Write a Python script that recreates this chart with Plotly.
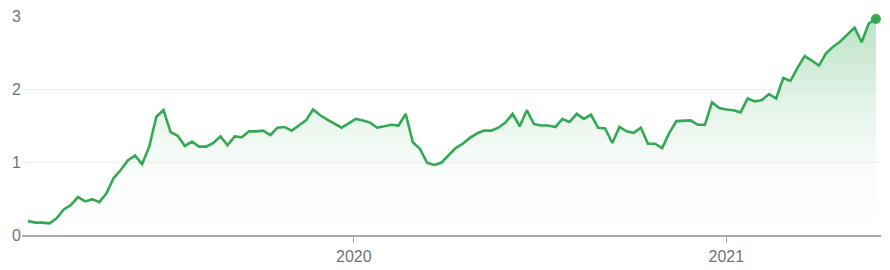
import pandas as pd
import plotly.graph_objects as go

# Weekly series
start_date = "2019-02-15"
values = [
    0.19, 0.17, 0.17, 0.16, 0.23, 0.35, 0.41, 0.52, 0.46, 0.49,
    0.45, 0.57, 0.78, 0.89, 1.02, 1.09, 0.97, 1.21, 1.62, 1.71,
    1.41, 1.36, 1.22, 1.28, 1.21, 1.21, 1.26, 1.35, 1.23, 1.35,
    1.34, 1.42, 1.42, 1.43, 1.37, 1.47, 1.48, 1.43, 1.50, 1.57,
    1.72, 1.64, 1.58, 1.52, 1.47, 1.53, 1.59, 1.57, 1.54, 1.47,
    1.49, 1.51, 1.50, 1.66, 1.27, 1.18, 0.99, 0.96, 0.99, 1.09,
    1.19, 1.25, 1.33, 1.39, 1.43, 1.43, 1.47, 1.54, 1.66, 1.49,
    1.71, 1.52, 1.50, 1.50, 1.48, 1.59, 1.55, 1.66, 1.59, 1.65,
    1.47, 1.46, 1.26, 1.48, 1.42, 1.40, 1.47, 1.25, 1.25, 1.19,
    1.40, 1.56, 1.56, 1.57, 1.51, 1.51, 1.82, 1.74, 1.72, 1.71,
    1.68, 1.87, 1.83, 1.85, 1.93, 1.87, 2.15, 2.11, 2.29, 2.45,
    2.39, 2.32, 2.49, 2.58, 2.65, 2.74, 2.84, 2.64, 2.90, 2.96,
]
dates = pd.date_range(start_date, periods=len(values), freq="7D")

x_tick_vals = ["2020-01-01", "2021-01-01"]
x_tick_text = ["2020", "2021"]
y_tick_vals = [0, 1, 2, 3]
y_tick_text = ["0", "1", "2", "3"]
x_range = ["2019-02-09", "2021-06-02"]
y_range = [0, 3]

GREEN = "#34a853"
GRAY_TEXT = "#70757a"

fig = go.Figure()
fig.add_trace(go.Scatter(
    x=dates, y=values, mode="lines",
    line=dict(color=GREEN, width=2.6),
    fill="tozeroy",
    fillgradient=dict(
        type="vertical",
        start=0, stop=3,
        colorscale=[
            [0.0, "rgba(52,168,83,0.0)"],
            [0.3, "rgba(52,168,83,0.03)"],
            [0.6, "rgba(52,168,83,0.13)"],
            [1.0, "rgba(52,168,83,0.34)"],
        ],
    ),
    hoverinfo="skip", showlegend=False,
))
fig.add_trace(go.Scatter(
    x=[dates[-1]], y=[values[-1]], mode="markers",
    marker=dict(color=GREEN, size=10),
    cliponaxis=False, hoverinfo="skip", showlegend=False,
))

fig.update_layout(
    width=890, height=270,
    margin=dict(l=22, r=9, t=16, b=35, autoexpand=False),
    paper_bgcolor="white", plot_bgcolor="white",
    font=dict(family="Arial, Liberation Sans, sans-serif", size=16, color=GRAY_TEXT),
    xaxis=dict(
        range=x_range, type="date", automargin=False,
        tickvals=x_tick_vals, ticktext=x_tick_text,
        showgrid=False, zeroline=False,
        showline=True, linecolor="#a6a9ae", linewidth=2,
        ticks="outside", ticklen=6, tickwidth=1, tickcolor="#a6a9ae",
        tickfont=dict(size=16, color=GRAY_TEXT),
    ),
    yaxis=dict(
        range=y_range, automargin=False,
        tickvals=y_tick_vals, ticktext=y_tick_text,
        showgrid=True, gridcolor="#f1f1f1", gridwidth=1,
        zeroline=False, showline=False, ticks="",
        tickfont=dict(size=16, color=GRAY_TEXT),
        ticklabelstandoff=0,
    ),
)

fig.write_html("out.html")
